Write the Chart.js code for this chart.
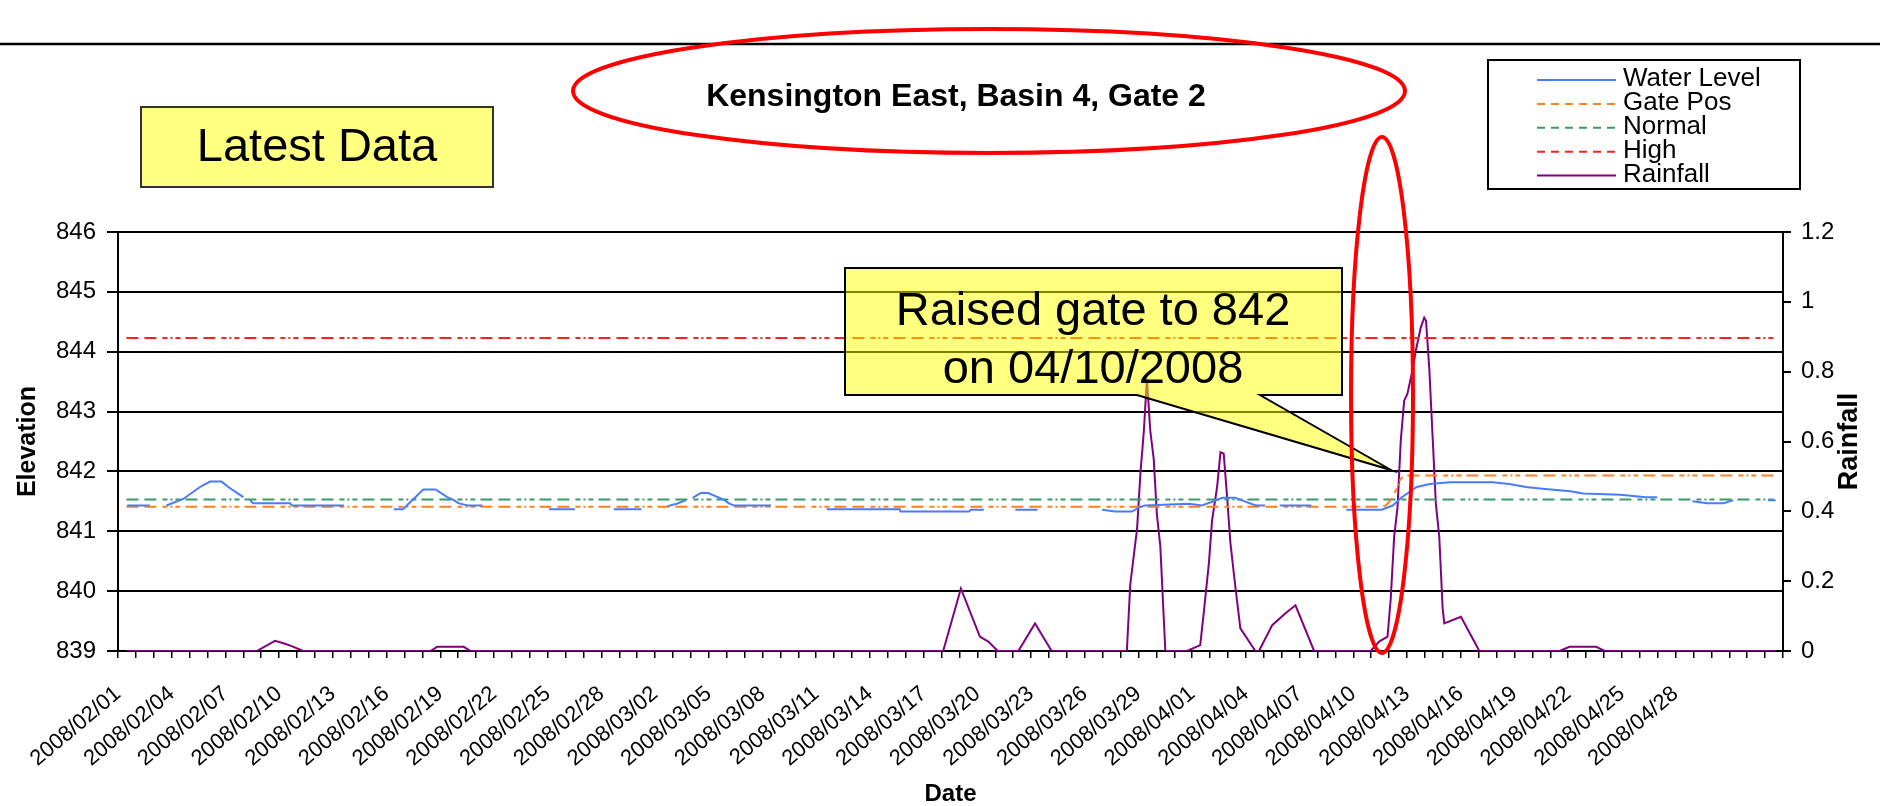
<!DOCTYPE html>
<html>
<head>
<meta charset="utf-8">
<title>Kensington East, Basin 4, Gate 2</title>
<script src="https://cdn.jsdelivr.net/npm/chart.js@4.4.1/dist/chart.umd.min.js"></script>
<style>
  html, body { margin: 0; padding: 0; background: #fff; }
  #wrap { width: 1880px; height: 806px; }
</style>
</head>
<body>
<div id="wrap"><canvas id="gateChart" width="1880" height="806"></canvas></div>
<script>
// x values are days counted from 2008/02/01 (readings come several times a day)
const tickLabels = [
  '2008/02/01', '2008/02/04', '2008/02/07', '2008/02/10', '2008/02/13', '2008/02/16',
  '2008/02/19', '2008/02/22', '2008/02/25', '2008/02/28', '2008/03/02', '2008/03/05',
  '2008/03/08', '2008/03/11', '2008/03/14', '2008/03/17', '2008/03/20', '2008/03/23',
  '2008/03/26', '2008/03/29', '2008/04/01', '2008/04/04', '2008/04/07', '2008/04/10',
  '2008/04/13', '2008/04/16', '2008/04/19', '2008/04/22', '2008/04/25', '2008/04/28'
];

// water level, null = no reading (line breaks there)
const levelDays = [
  0.51, 1.78, 2.27,
  2.71, 3.64, 4.58, 5.14, 5.79, 6.16, 7.0, 7.18,
  7.37, 7.54, 9.61, 9.71, 12.61, 13.95,
  15.4, 15.91, 16.61, 17.05, 17.73, 18.39, 18.76, 19.01, 19.53, 20.36, 22.22,
  24.08, 25.52, 26.56,
  27.69, 29.24, 29.97,
  30.69, 31.21, 31.72, 31.93,
  32.1, 32.55, 32.96, 33.27, 33.89, 34.1, 34.41, 36.48, 38.03,
  39.58, 43.66, 43.71, 47.53, 47.64, 48.36, 49.19,
  50.12, 51.36, 53.11,
  54.97, 55.7, 56.63, 57.04, 57.35, 59.83, 60.55, 61.07, 61.69, 62.41, 62.93, 63.55, 64.07, 64.48,
  64.89, 66.65, 67.58,
  68.61, 70.58, 71.2, 71.71, 72.54, 73.26, 74.4, 76.78, 77.71, 78.64, 79.57, 81.12, 81.84, 83.91, 85.35, 85.97, 86.9,
  87.94, 88.76, 89.69, 90.21, 91.14,
  92.17, 92.59
];
const levelValues = [
  841.43, 841.43, null,
  841.43, 841.54, 841.74, 841.83, 841.83, 841.74, 841.57, null,
  841.52, 841.47, 841.47, 841.43, 841.43, null,
  841.37, 841.37, 841.57, 841.70, 841.70, 841.57, 841.52, 841.47, 841.43, 841.43, null,
  841.37, 841.37, null,
  841.37, 841.37, null,
  841.42, 841.46, 841.52, null,
  841.56, 841.64, 841.64, 841.60, 841.52, 841.47, 841.43, 841.43, null,
  841.37, 841.37, 841.33, 841.33, 841.36, 841.36, null,
  841.36, 841.36, null,
  841.36, 841.33, 841.33, 841.40, 841.43, 841.46, 841.43, 841.49, 841.56, 841.56, 841.50, 841.43, 841.43, null,
  841.43, 841.43, null,
  841.36, 841.36, 841.43, 841.57, 841.74, 841.79, 841.82, 841.82, 841.79, 841.74, 841.71, 841.67, 841.63, 841.61, 841.57, 841.57, null,
  841.50, 841.47, 841.47, 841.52, null,
  841.52, 841.52
];

const gateDays = [0.47, 70.44, 70.81, 71.09, 71.37, 71.65, 71.92, 92.59];
const gateValues = [841.41, 841.41, 841.43, 841.52, 841.68, 841.88, 841.93, 841.93];

const normalDays = [0.47, 92.59];
const normalValues = [841.53, 841.53];

const highDays = [0.47, 92.59];
const highValues = [844.23, 844.23];

const rainDays = [
  0.47, 7.75, 8.77, 9.24, 9.7, 10.35, 17.45, 17.83, 19.31, 19.69,
  46.09, 47.08, 48.14, 48.61, 49.14, 50.29, 51.22, 52.15,
  56.35, 56.54, 56.73, 56.92, 57.11, 57.3, 57.47, 57.66, 57.85, 58.03, 58.22, 58.5,
  59.71, 60.45, 60.65, 60.93, 61.11, 61.39, 61.58, 61.76, 61.95, 62.13, 62.41, 62.69, 63.53,
  63.73, 64.47, 65.21, 65.77, 66.81,
  69.97, 70.44, 70.91, 71.09, 71.28, 71.47, 71.65, 71.84, 72.02, 72.3, 72.49, 72.77, 72.96, 73.06,
  73.24, 73.43, 73.61, 73.8, 73.99, 74.08, 75.01, 76.04,
  80.52, 81.08, 82.56, 83.04, 92.59
];
const rainValues = [
  0, 0, 0.029, 0.022, 0.014, 0, 0, 0.012, 0.012, 0,
  0, 0.179, 0.041, 0.027, 0, 0, 0.079, 0,
  0, 0.19, 0.27, 0.35, 0.51, 0.63, 0.78, 0.63, 0.55, 0.39, 0.3, 0,
  0, 0.017, 0.112, 0.25, 0.374, 0.469, 0.569, 0.565, 0.441, 0.312, 0.184, 0.065, 0,
  0, 0.074, 0.108, 0.131, 0,
  0, 0.027, 0.041, 0.15, 0.327, 0.412, 0.603, 0.717, 0.736, 0.803, 0.86, 0.927, 0.955, 0.946,
  0.812, 0.612, 0.422, 0.327, 0.122, 0.079, 0.098, 0,
  0, 0.012, 0.012, 0, 0
];

const FONT = "'Liberation Sans', Arial, sans-serif";
const refDash = [12, 6, 12, 6, 5, 3, 2, 3, 5, 5];

function pts(days, vals) {
  return days.map((d, i) => ({ x: d, y: vals[i] }));
}

// annotations, legend box and right axis title
const overlay = {
  id: 'overlay',
  afterDraw(chart) {
    const ctx = chart.ctx;
    ctx.save();

    ctx.strokeStyle = '#000';
    ctx.lineWidth = 2.5;
    ctx.beginPath();
    ctx.moveTo(0, 44);
    ctx.lineTo(1880, 44);
    ctx.stroke();

    // title + ellipse
    ctx.fillStyle = '#000';
    ctx.font = 'bold 32px ' + FONT;
    ctx.textAlign = 'center';
    ctx.textBaseline = 'middle';
    ctx.fillText('Kensington East, Basin 4, Gate 2', 956, 97);

    ctx.strokeStyle = '#ff0000';
    ctx.lineWidth = 4;
    ctx.beginPath();
    ctx.ellipse(989, 91, 416, 62, 0, 0, Math.PI * 2);
    ctx.stroke();

    // Latest Data box
    ctx.fillStyle = '#ffff80';
    ctx.fillRect(141, 107, 352, 80);
    ctx.strokeStyle = '#333';
    ctx.lineWidth = 2;
    ctx.strokeRect(141, 107, 352, 80);
    ctx.fillStyle = '#000';
    ctx.font = '47px ' + FONT;
    ctx.fillText('Latest Data', 317, 148);

    // callout
    ctx.beginPath();
    ctx.moveTo(845, 268);
    ctx.lineTo(1342, 268);
    ctx.lineTo(1342, 395);
    ctx.lineTo(1260, 395);
    ctx.lineTo(1391, 470);
    ctx.lineTo(1137, 395);
    ctx.lineTo(845, 395);
    ctx.closePath();
    ctx.fillStyle = 'rgba(255, 255, 0, 0.5)';
    ctx.fill();
    ctx.strokeStyle = '#000';
    ctx.lineWidth = 2;
    ctx.stroke();
    ctx.fillStyle = '#000';
    ctx.font = '47px ' + FONT;
    ctx.textBaseline = 'alphabetic';
    ctx.fillText('Raised gate to 842', 1093, 325);
    ctx.fillText('on 04/10/2008', 1093, 383);

    // ellipse round the gate change
    ctx.strokeStyle = '#ff0000';
    ctx.lineWidth = 4;
    ctx.beginPath();
    ctx.ellipse(1382, 395, 31, 258, 0, 0, Math.PI * 2);
    ctx.stroke();

    // legend
    ctx.fillStyle = '#fff';
    ctx.fillRect(1488, 60, 312, 129);
    ctx.strokeStyle = '#000';
    ctx.lineWidth = 2;
    ctx.strokeRect(1488, 60, 312, 129);
    ctx.font = '26px ' + FONT;
    ctx.textAlign = 'left';
    chart.data.datasets.forEach((ds, i) => {
      const y = 86 + i * 23.9;
      ctx.strokeStyle = ds.borderColor;
      ctx.lineWidth = 2;
      ctx.setLineDash(ds.borderDash && ds.borderDash.length ? [8, 6] : []);
      ctx.beginPath();
      ctx.moveTo(1537, y - 6);
      ctx.lineTo(1616, y - 6);
      ctx.stroke();
      ctx.setLineDash([]);
      ctx.fillStyle = '#000';
      ctx.fillText(ds.label, 1623, y);
    });

    // right axis title, reading upward like the left one
    ctx.translate(1850, (chart.chartArea.top + chart.chartArea.bottom) / 2);
    ctx.rotate(-Math.PI / 2);
    ctx.textAlign = 'center';
    ctx.textBaseline = 'middle';
    ctx.font = 'bold 27px ' + FONT;
    ctx.fillText('Rainfall', 0, 0);

    ctx.restore();
  }
};

const tickFont = { family: FONT, size: 24 };
const xTickFont = { family: FONT, size: 22 };

new Chart(document.getElementById('gateChart'), {
  type: 'line',
  data: {
    datasets: [
      { label: 'Water Level', data: pts(levelDays, levelValues), borderColor: '#4a7bff', borderWidth: 2, yAxisID: 'y' },
      { label: 'Gate Pos', data: pts(gateDays, gateValues), borderColor: '#ff8020', borderWidth: 2, borderDash: refDash, yAxisID: 'y' },
      { label: 'Normal', data: pts(normalDays, normalValues), borderColor: '#3a9a6a', borderWidth: 2, borderDash: refDash, yAxisID: 'y' },
      { label: 'High', data: pts(highDays, highValues), borderColor: '#ff2020', borderWidth: 2, borderDash: refDash, yAxisID: 'y' },
      { label: 'Rainfall', data: pts(rainDays, rainValues), borderColor: '#800080', borderWidth: 2, yAxisID: 'y1' }
    ]
  },
  options: {
    responsive: false,
    animation: false,
    spanGaps: false,
    elements: { point: { radius: 0 }, line: { tension: 0 } },
    layout: { padding: { top: 232, left: 0, right: 0, bottom: 0 } },
    plugins: { legend: { display: false }, tooltip: { enabled: false } },
    scales: {
      x: {
        type: 'linear',
        min: 0,
        max: 93,
        afterFit: s => { s.height = 155; },
        ticks: {
          stepSize: 1,
          autoSkip: false,
          minRotation: 40,
          maxRotation: 40,
          padding: 23,
          color: '#000',
          font: xTickFont,
          callback: v => (v % 3 === 0 && v / 3 < tickLabels.length ? tickLabels[v / 3] : '')
        },
        grid: { drawOnChartArea: false, color: '#000', lineWidth: 1.5, tickLength: 7 },
        border: { color: '#000', width: 2 },
        title: { display: true, text: 'Date', color: '#000', font: { family: FONT, size: 24, weight: 'bold', lineHeight: 1 }, padding: { top: 0, bottom: 0 } }
      },
      y: {
        position: 'left',
        min: 839,
        max: 846,
        afterFit: s => { s.width = 118; },
        ticks: { stepSize: 1, color: '#000', font: tickFont, padding: 11 },
        grid: { color: '#000', lineWidth: 2, tickLength: 11 },
        border: { color: '#000', width: 2 },
        title: { display: true, text: 'Elevation', color: '#000', font: { family: FONT, size: 25, weight: 'bold', lineHeight: 1 }, padding: { top: 16, bottom: 0 } }
      },
      y1: {
        position: 'right',
        min: 0,
        max: 1.2,
        afterFit: s => { s.width = 97; },
        ticks: { stepSize: 0.2, color: '#000', font: tickFont, padding: 10, callback: v => String(Math.round(v * 10) / 10) },
        grid: { drawOnChartArea: false, color: '#000', lineWidth: 2, tickLength: 8 },
        border: { color: '#000', width: 2 }
      }
    }
  },
  plugins: [overlay]
});
</script>
</body>
</html>
